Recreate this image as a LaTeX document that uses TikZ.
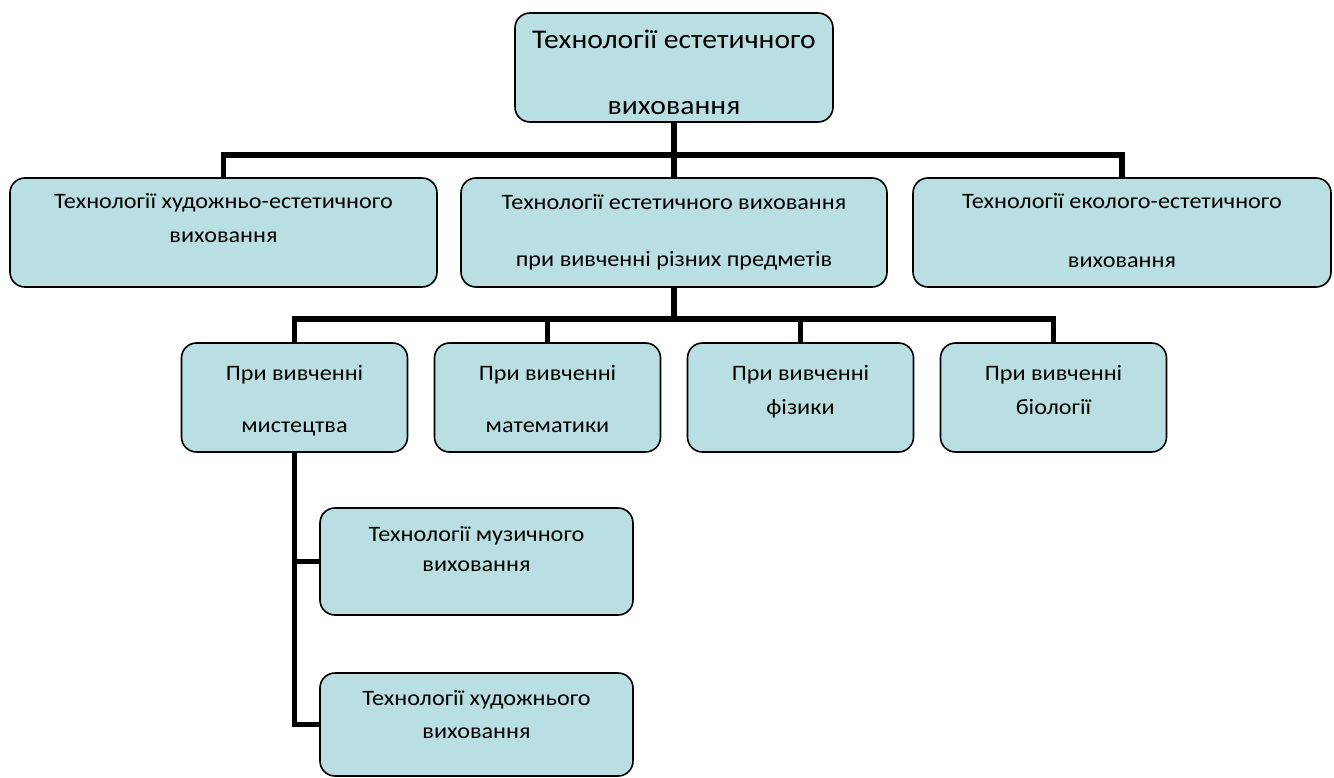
\documentclass[tikz,border=0pt]{standalone}
\usepackage{fontspec}
\setmainfont[FakeStretch=1.1]{Carlito}
\definecolor{boxfill}{RGB}{185,223,227}

\begin{document}
\begin{tikzpicture}[x=1pt,y=-1pt,
	box/.style={draw, line width=1.6pt, rounded corners=15pt, fill=boxfill, inner sep=0pt},
	txt/.style={align=center, anchor=base, inner sep=0pt},
	link/.style={line width=5.5pt}]
	\useasboundingbox (0,0) rectangle (1334,778);
	% boxes
	\node[box, minimum width=318, minimum height=109] (top) at (674,67.5) {};
	\node[box, minimum width=427, minimum height=109] (hud) at (223.5,232.5) {};
	\node[box, minimum width=426, minimum height=109] (pred) at (674,232.5) {};
	\node[box, minimum width=418, minimum height=109] (eko) at (1122,232.5) {};
	\node[box, minimum width=226, minimum height=109] (mist) at (294.5,397.5) {};
	\node[box, minimum width=226, minimum height=109] (mat) at (547.5,397.5) {};
	\node[box, minimum width=226, minimum height=109] (fiz) at (800.5,397.5) {};
	\node[box, minimum width=226, minimum height=109] (bio) at (1053.5,397.5) {};
	\node[box, minimum width=313, minimum height=107] (muz) at (476.5,561.5) {};
	\node[box, minimum width=313, minimum height=103] (hudv) at (476.5,724.5) {};
	% texts (base = last line)
	\node[txt, font=\fontsize{27}{66}\selectfont] (topT) at (674,115) {Технології естетичного\\виховання};
	\node[txt, font=\fontsize{22}{34}\selectfont] (hudT) at (223.5,243) {Технології художньо-естетичного\\виховання};
	\node[txt, font=\fontsize{22}{58}\selectfont] (predT) at (674,267) {Технології естетичного виховання\\при вивченні різних предметів};
	\node[txt, font=\fontsize{22}{59}\selectfont] (ekoT) at (1122,268) {Технології еколого-естетичного\\виховання};
	\node[txt, font=\fontsize{22}{52}\selectfont] (mistT) at (294.5,432) {При вивченні\\мистецтва};
	\node[txt, font=\fontsize{22}{52}\selectfont] (matT) at (547.5,432) {При вивченні\\математики};
	\node[txt, font=\fontsize{22}{34}\selectfont] (fizT) at (800.5,414) {При вивченні\\фізики};
	\node[txt, font=\fontsize{22}{34}\selectfont] (bioT) at (1053.5,414) {При вивченні\\біології};
	\node[txt, font=\fontsize{22}{30}\selectfont] (muzT) at (476.5,571) {Технології музичного\\виховання};
	\node[txt, font=\fontsize{22}{33}\selectfont] (hudvT) at (476.5,738) {Технології художнього\\виховання};
	% links
	\coordinate (bar1) at (674,155);
	\coordinate (bar2) at (674,319);
	\draw[link] (top.south) -- (pred.north);
	\draw[link] (hud.north) |- (bar1) -| (eko.north);
	\draw[link] (pred.south) -- (bar2);
	\draw[link] (mist.north) |- (bar2) -| (bio.north);
	\draw[link] (mat.north) -- (mat.north |- bar2);
	\draw[link] (fiz.north) -- (fiz.north |- bar2);
	\draw[link] (mist.south) |- (muz.west);
	\draw[link] (mist.south) |- (hudv.west);
\end{tikzpicture}
\end{document}
